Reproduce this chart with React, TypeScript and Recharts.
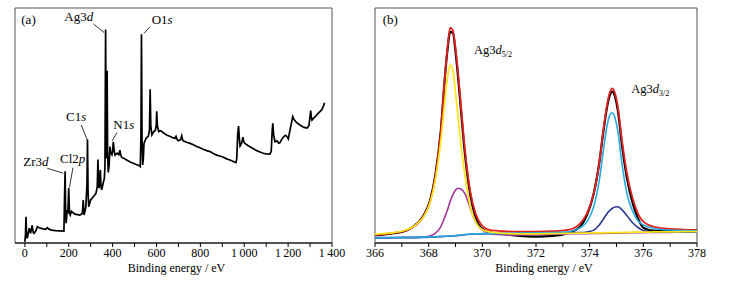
import React from 'react';
import { LineChart, Line, XAxis, YAxis, ReferenceArea, ReferenceLine, ReferenceDot } from 'recharts';

const FONT = "'Liberation Serif', 'Times New Roman', serif";

// ---------- Panel (a): survey spectrum ----------
const surveyEnergy = [
  0, 3, 5, 8, 11, 15, 20, 26, 33, 38,
  42, 50, 57, 65, 75, 84, 95, 102, 110, 122,
  140, 160, 178, 181, 183.5, 186, 188, 193, 196, 200,
  203, 207, 212, 228, 251, 262, 266, 270, 278, 283,
  285.5, 288, 291, 300, 312, 324, 330, 333, 336, 338,
  341, 344, 347, 350, 357, 362, 365, 368, 371, 373,
  375, 377, 380, 384, 388, 392, 397, 400, 403, 407,
  411, 416, 421, 428, 433, 437, 441, 452, 464, 480,
  494, 510, 520, 526, 529, 531.5, 534, 537, 540, 543,
  552, 563, 568, 571, 574, 579, 588, 595, 599, 601,
  604, 610, 619, 631, 646, 660, 669, 684, 689, 694,
  699, 710, 715, 719, 722, 737, 753, 768, 783, 798,
  813, 829, 844, 859, 874, 889, 905, 920, 935, 950,
  962, 966, 970, 974, 978, 981, 988, 994, 998, 1003,
  1015, 1026, 1040, 1057, 1072, 1087, 1100, 1117, 1123, 1127,
  1130, 1134, 1140, 1150, 1157, 1163, 1170, 1178, 1187, 1193,
  1201, 1208, 1215, 1221, 1227, 1239, 1254, 1263, 1272, 1287,
  1295, 1300, 1303, 1306, 1309, 1315, 1322, 1330, 1337, 1345,
  1353, 1360, 1366,
];
const surveyCounts = [
  0.5, 4, 11.2, 3, 2.0, 4, 6.3, 4.1, 7.5, 4.5,
  4.1, 5.2, 6.9, 6.5, 6.2, 6.0, 5.8, 6.5, 5.9, 5.5,
  5.3, 5.2, 5.1, 20, 30.5, 12, 8.4, 14, 12.5, 23.5,
  13, 11.9, 13.5, 12.3, 11.9, 12.6, 18.3, 11.9, 15.4, 25,
  44, 22, 15.4, 18.3, 19.7, 21.1, 24, 35.5, 26, 23.3,
  26, 31.1, 24, 22.6, 25.4, 27.5, 32, 90.9, 36, 45,
  73.3, 40, 30, 33, 41, 38.2, 37.5, 39, 43.1, 39.5,
  37.4, 37.8, 38.2, 37.5, 39.5, 37.5, 36.5, 36, 35.3, 34.5,
  33.9, 33.3, 33, 32.5, 45, 88.8, 45, 33.2, 36, 42.4,
  44.5, 45.5, 48, 65.4, 50, 46, 47.4, 48, 50, 56,
  50, 47.4, 47.8, 46.9, 46, 45.4, 45, 44.5, 45.4, 44,
  43.5, 44, 45.6, 44, 43.5, 42.9, 42.4, 41.8, 41.1, 40.5,
  39.9, 39.3, 38.9, 38.1, 37.4, 37, 36.5, 35.8, 35.3, 34.7,
  34.2, 36, 46, 49.8, 44, 41.3, 42.5, 45, 43, 42.4,
  41.6, 41, 40.2, 39.3, 38.7, 38.2, 37.9, 37.8, 39, 47,
  50.9, 46, 43.1, 43.5, 42.5, 42.7, 44, 45, 45.8, 45.5,
  44.3, 47.8, 51, 53.8, 52.5, 51.2, 50.2, 49.7, 49.2, 48.9,
  50, 54, 56.3, 53.5, 52.3, 53, 53.7, 54.4, 55.2, 55.9,
  56.6, 58, 59.7,
];
const surveyTicks = [0, 100, 200, 300, 400, 500, 600, 700, 800, 900, 1000, 1100, 1200, 1300, 1400];
const surveyTickLabels = ['0', '', '200', '', '400', '', '600', '', '800', '', '1\u2009000', '', '1\u2009200', '', '1\u2009400'];

// annotation placements (data coordinates)
const surveyNotes = [
  { main: 'Ag3', ital: 'd', tx: 179.7, ty: 94.5, from: [313, 93.2], to: [360.7, 89.6] },
  { main: 'O1', ital: 's', tx: 578, ty: 93.2, from: [570.4, 92], to: [543, 89.2] },
  { main: 'C1', ital: 's', tx: 187.5, ty: 52, from: [257, 50.2], to: [284.6, 43.8] },
  { main: 'N1', ital: 's', tx: 403, ty: 48.5, from: [419.9, 47], to: [397.2, 43.4] },
  { main: 'Zr3', ital: 'd', tx: -7.2, ty: 32.8, from: [102, 31.8], to: [175, 29.7] },
  { main: 'Cl2', ital: 'p', tx: 160, ty: 34.2, from: [219.4, 32.1], to: [203.4, 23.8] },
];

// ---------- Panel (b): Ag3d high resolution ----------
const fineEnergy = [
  366, 366.5, 367, 367.4, 367.8, 368.05, 368.25, 368.45, 368.6, 368.7,
  368.8, 368.9, 369.0, 369.1, 369.2, 369.35, 369.55, 369.75, 369.95, 370.3,
  370.8, 371.4, 372, 372.6, 373.2, 373.6, 373.9, 374.15, 374.35, 374.5,
  374.65, 374.75, 374.85, 374.95, 375.05, 375.2, 375.4, 375.6, 375.8, 376,
  376.4, 377, 377.5, 378,
];
const fineRaw = [
  3.3, 3.9, 4.7, 6.8, 11.5, 18, 29, 47.5, 70, 82,
  89.8, 89.5, 81.5, 70, 57, 38, 20.5, 11, 6.5, 4.5,
  3.8, 3.0, 2.7, 3.0, 4.3, 6.5, 12, 21, 33.5, 46.5,
  58, 62.8, 64.4, 62, 56.5, 42, 27, 17, 10.5, 6.5,
  5.2, 5.3, 5.4, 5.4,
];
const fineEnvelope = [
  3.4, 4.0, 4.8, 6.7, 11.2, 17.6, 28.5, 47, 70, 83,
  91.6, 90.5, 83, 72, 59, 40, 22, 12.5, 8, 5.5,
  5.0, 4.8, 4.8, 5.0, 5.6, 7.8, 12.6, 21, 33.5, 47,
  59, 64, 65.8, 63.5, 58, 44, 29, 19, 12.5, 9.1,
  6.9, 6.0, 5.7, 5.5,
];
const fineD52Main = [
  3.7, 4.2, 5.0, 6.8, 11.0, 17, 27, 43, 60, 70.5,
  75.7, 73.5, 64, 53, 42, 29, 15.4, 9, 6, 4.6,
  4.1, 3.9, 3.9, 4.0, 4.1, 4.2, 4.2, 4.3, 4.3, 4.3,
  4.4, 4.4, 4.4, 4.4, 4.4, 4.5, 4.5, 4.6, 4.6, 4.6,
  4.7, 4.7, 4.8, 4.8,
];
const fineD52Minor = [
  2.3, 2.3, 2.4, 2.4, 2.6, 3.0, 4.2, 6.9, 11, 14,
  17.6, 20.5, 22.5, 23.3, 23, 21, 14.8, 9, 6, 4.1,
  3.5, 3.4, 3.5, 3.7, 3.9, 4.0, 4.0, 4.1, 4.1, 4.1,
  4.2, 4.2, 4.2, 4.2, 4.2, 4.3, 4.3, 4.4, 4.4, 4.4,
  4.5, 4.5, 4.6, 4.6,
];
const fineD32Main = [
  2.3, 2.3, 2.4, 2.4, 2.5, 2.6, 2.7, 2.8, 2.9, 3.0,
  3.0, 3.1, 3.2, 3.3, 3.4, 3.6, 3.8, 3.9, 4.0, 4.1,
  4.1, 4.2, 4.3, 4.4, 4.8, 6.2, 9.1, 15.4, 26, 38.5,
  50, 54.5, 55.4, 53, 47.5, 34, 20.5, 13.5, 9.5, 7.7,
  6.2, 5.5, 5.3, 5.2,
];
const fineD32Minor = [
  2.2, 2.2, 2.3, 2.3, 2.4, 2.5, 2.6, 2.7, 2.8, 2.9,
  2.9, 3.0, 3.1, 3.2, 3.3, 3.5, 3.7, 3.8, 3.9, 4.0,
  4.0, 4.1, 4.2, 4.2, 4.3, 4.4, 4.7, 5.5, 7.6, 10,
  12.6, 13.8, 14.8, 15.3, 15.4, 14.2, 11.5, 8.6, 6.6, 5.3,
  4.7, 4.6, 4.6, 4.6,
];
const fineTicks = [366, 367, 368, 369, 370, 371, 372, 373, 374, 375, 376, 377, 378];
const fineTickLabels = ['366', '', '368', '', '370', '', '372', '', '374', '', '376', '', '378'];

const surveyData = surveyEnergy.map((e, i) => ({ e, v: surveyCounts[i] }));
const fineData = fineEnergy.map((e, i) => ({
  e,
  raw: fineRaw[i],
  env: fineEnvelope[i],
  a: fineD52Main[i],
  b: fineD52Minor[i],
  c: fineD32Main[i],
  d: fineD32Minor[i],
}));

const titleContent = (dx: number) => (p: any) => {
  const vb = p?.viewBox;
  if (!vb) return null;
  return (
    <text x={vb.x + vb.width / 2 + dx} y={vb.y + vb.height - 10} textAnchor="middle" fontFamily={FONT} fontSize={12} fill="#000">
      Binding energy / eV
    </text>
  );
};

const noteText = (main: string, ital: string, sub: string | null, size: number) => (p: any) => {
  const vb = p?.viewBox;
  if (!vb) return null;
  return (
    <text x={vb.x} y={vb.y} fontFamily={FONT} fontSize={size} fill="#000">
      {main}
      {ital ? <tspan fontStyle="italic">{ital}</tspan> : null}
      {sub ? <tspan fontSize={8} dy={3}>{sub}</tspan> : null}
    </text>
  );
};

const tickStyle = { fill: '#000', fontSize: 12, fontFamily: FONT };

export default function App() {
  return (
    <div style={{ position: 'absolute', left: 0, top: 0, width: 738, height: 282, background: '#fff' }}>
      <div style={{ position: 'absolute', left: 0, top: 0 }}>
        <LineChart width={369} height={282} data={surveyData} margin={{ top: 8, right: 37, bottom: 0, left: 15 }}>
          <XAxis
            dataKey="e"
            type="number"
            domain={[-45, 1400]}
            ticks={surveyTicks}
            interval={0}
            tickFormatter={(v: number) => surveyTickLabels[surveyTicks.indexOf(v)] ?? ''}
            height={39}
            tickSize={4}
            tickMargin={1}
            stroke="#000"
            tick={tickStyle}
            allowDataOverflow
            label={{ content: titleContent(3) }}
          />
          <YAxis type="number" domain={[0, 100]} hide />
          <ReferenceArea x1={-45} x2={1400} y1={0} y2={100} fill="#fff" fillOpacity={0} stroke="#555" strokeWidth={1} ifOverflow="visible" />
          <Line dataKey="v" type="linear" stroke="#000" strokeWidth={1.7} dot={false} isAnimationActive={false} />
          {surveyNotes.map((n, i) => (
            <ReferenceLine
              key={'l' + i}
              segment={[{ x: n.from[0], y: n.from[1] }, { x: n.to[0], y: n.to[1] }]}
              stroke="#000"
              strokeWidth={0.8}
              ifOverflow="visible"
            />
          ))}
          {surveyNotes.map((n, i) => (
            <ReferenceDot key={'t' + i} x={n.tx} y={n.ty} r={0} fill="none" stroke="none" ifOverflow="visible" label={{ content: noteText(n.main, n.ital, null, 13) }} />
          ))}
          <ReferenceDot x={-16.3} y={93.2} r={0} fill="none" stroke="none" ifOverflow="visible" label={{ content: noteText('(a)', '', null, 13) }} />
        </LineChart>
      </div>
      <div style={{ position: 'absolute', left: 345, top: 0 }}>
        <LineChart width={393} height={282} data={fineData} margin={{ top: 8, right: 41, bottom: 0, left: 30 }}>
          <XAxis
            dataKey="e"
            type="number"
            domain={[366, 378]}
            ticks={fineTicks}
            interval={0}
            tickFormatter={(v: number) => fineTickLabels[fineTicks.indexOf(v)] ?? ''}
            height={39}
            tickSize={4}
            tickMargin={1}
            stroke="#000"
            tick={tickStyle}
            allowDataOverflow
            label={{ content: titleContent(8) }}
          />
          <YAxis type="number" domain={[0, 100]} hide />
          <ReferenceArea x1={366} x2={378} y1={0} y2={100} fill="#fff" fillOpacity={0} stroke="#555" strokeWidth={1} ifOverflow="visible" />
          <Line dataKey="raw" type="monotone" stroke="#000" strokeWidth={2.2} dot={false} isAnimationActive={false} />
          <Line dataKey="env" type="monotone" stroke="#e3201f" strokeWidth={1.8} dot={false} isAnimationActive={false} />
          <Line dataKey="b" type="monotone" stroke="#a2399a" strokeWidth={1.6} dot={false} isAnimationActive={false} />
          <Line dataKey="d" type="monotone" stroke="#2b3990" strokeWidth={1.6} dot={false} isAnimationActive={false} />
          <Line dataKey="c" type="monotone" stroke="#27aae1" strokeWidth={1.6} dot={false} isAnimationActive={false} />
          <Line dataKey="a" type="monotone" stroke="#fde51a" strokeWidth={1.7} dot={false} isAnimationActive={false} />
          <ReferenceDot x={366.29} y={93.2} r={0} fill="none" stroke="none" ifOverflow="visible" label={{ content: noteText('(b)', '', null, 13) }} />
          <ReferenceDot x={369.69} y={80.4} r={0} fill="none" stroke="none" ifOverflow="visible" label={{ content: noteText('Ag3', 'd', '5/2', 12.5) }} />
          <ReferenceDot x={375.55} y={63.7} r={0} fill="none" stroke="none" ifOverflow="visible" label={{ content: noteText('Ag3', 'd', '3/2', 12.5) }} />
        </LineChart>
      </div>
    </div>
  );
}
